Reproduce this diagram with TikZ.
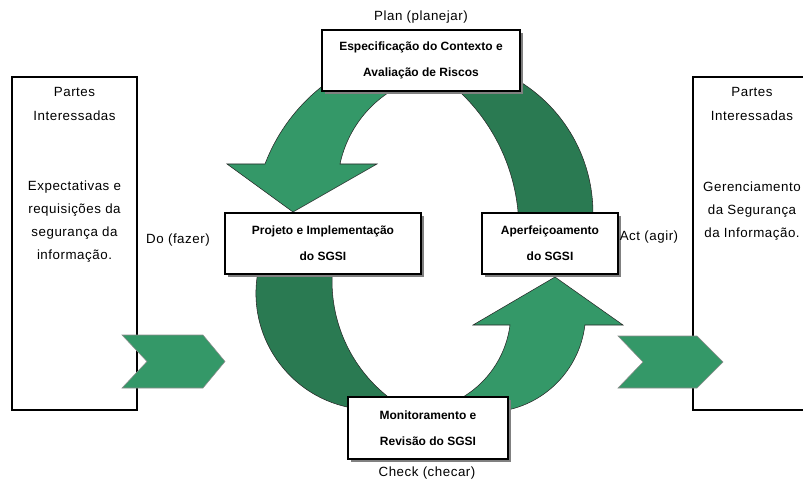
\documentclass[tikz,border=0pt]{standalone}
\usepackage{fontspec}
\setmainfont{Liberation Sans}
\usetikzlibrary{shadows}
\definecolor{lgreen}{RGB}{52,152,104}
\definecolor{dgreen}{RGB}{42,122,82}
\definecolor{shadowgray}{RGB}{128,128,128}
\tikzset{
 procbox/.style={draw=black, line width=1.3pt, fill=white, rectangle, inner sep=0pt, align=center,
   font=\fontsize{9}{19.5}\selectfont\bfseries,
   drop shadow={shadow xshift=2.25pt, shadow yshift=-2.25pt, fill=shadowgray, opacity=1}},
 sidebox/.style={draw=black, line width=1.1pt, rectangle, inner sep=0pt},
 lbl/.style={font=\fontsize{10}{12}\selectfont\addfontfeature{LetterSpace=4}, inner sep=0pt},
 sidetxt/.style={align=center, inner sep=0pt},
 lband/.style={fill=lgreen, draw=black!85, line width=0.4pt},
 dband/.style={fill=dgreen, draw=black!85, line width=0.4pt},
 chev/.style={fill=lgreen, draw=black!45, line width=0.4pt},
}
\begin{document}
\begin{tikzpicture}[x=0.75pt,y=-0.75pt]
\useasboundingbox (0,0) rectangle (803,481);
\clip (0,0) rectangle (803,481);
% side boxes
\node[sidebox, minimum width=93.75pt, minimum height=249.75pt] (lbox) at (74.5,243.5) {};
\node[sidebox, minimum width=90pt, minimum height=249.75pt] (rbox) at (753,243.5) {};
\node[sidetxt, font=\fontsize{10}{18}\selectfont\addfontfeature{LetterSpace=4}] (lt1) at (74.5,104) {Partes\\Interessadas};
\node[sidetxt, font=\fontsize{10}{17.25}\selectfont\addfontfeature{LetterSpace=4}] (lt2) at (74.5,221.5) {Expectativas e\\requisições da\\segurança da\\informação.};
\node[sidetxt, font=\fontsize{10}{18}\selectfont\addfontfeature{LetterSpace=4}] (rt1) at (752,104) {Partes\\Interessadas};
\node[sidetxt, font=\fontsize{10}{17.25}\selectfont\addfontfeature{LetterSpace=4}] (rt2) at (752,211) {Gerenciamento\\da Segurança\\da Informação.};
% chevrons
\filldraw[chev] (122,335) -- (203,335) -- (225,361.5) -- (203,388) -- (122,388) -- (147,361.5) -- cycle;
\filldraw[chev] (618,336) -- (697,336) -- (723,362) -- (697,388) -- (618,388) -- (643,362) -- cycle;
% cycle bands
\filldraw[lband] (330.7,80) .. controls (300.9,100.7) and (277.9,130.1) .. (265,164)
  -- (227,164) -- (293,212) -- (377,164) -- (340,164)
  .. controls (347.4,129.5) and (370.1,100.3) .. (401.9,85) -- cycle;
\filldraw[dband] (452.1,85) .. controls (492.5,119.3) and (516.7,169.0) .. (518.7,222)
  -- (592.7,222) .. controls (596.2,161.3) and (563.9,104.2) .. (510,76) -- cycle;
\filldraw[dband] (259.2,266) .. controls (243.0,333.6) and (289.0,400.2) .. (358,408.9)
  -- (398,404) .. controls (352.2,373.7) and (327.2,320.6) .. (332.8,266) -- cycle;
\filldraw[lband] (498,411.6) .. controls (543.5,406.3) and (579.5,370.5) .. (584.9,325)
  -- (623,325) -- (555,277) -- (473,325) -- (510,325)
  .. controls (505.3,361.4) and (480.8,392.2) .. (446.4,405) -- cycle;
% process boxes
\node[procbox, minimum width=148.5pt, minimum height=45.75pt] (plan) at (421,60.5) {Especificação do Contexto e\\Avaliação de Riscos};
\node[procbox, minimum width=147pt, minimum height=45.75pt] (do) at (323,243.5) {Projeto e Implementação\\do SGSI};
\node[procbox, minimum width=102pt, minimum height=45.75pt] (act) at (550,243.5) {Aperfeiçoamento\\do SGSI};
\node[procbox, minimum width=120pt, minimum height=46.5pt] (check) at (428,428) {Monitoramento e\\Revisão do SGSI};
% labels
\node[lbl] (lplan) at (421,17) {Plan (planejar)};
\node[lbl] (ldo) at (178,240) {Do (fazer)};
\node[lbl] (lact) at (649,237) {Act (agir)};
\node[lbl] (lcheck) at (427,473) {Check (checar)};
\end{tikzpicture}
\end{document}
